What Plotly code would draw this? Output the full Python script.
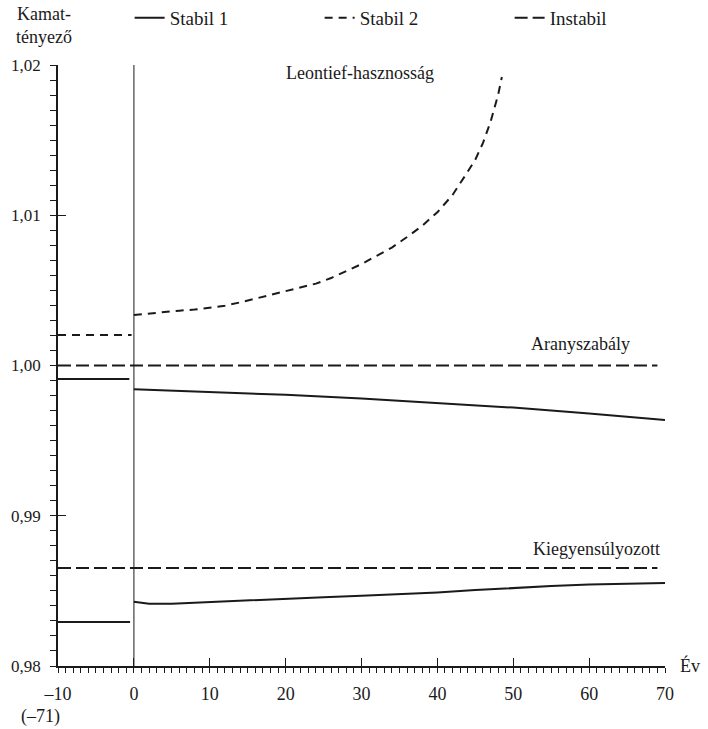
import plotly.graph_objects as go

# ---------------- data ----------------
# Leontief-hasznosság, Stabil 2
leo_pre_x = [-10, -0.3]
leo_pre_y = [1.00203, 1.00203]
leo_x = [0, 2, 4, 6, 8, 10, 12, 14, 16, 18, 20, 22, 24, 26, 28, 30, 32, 34, 36,
         38, 40, 42, 44, 45, 46, 47, 48, 48.5]
leo_y = [1.00336, 1.00347, 1.00358, 1.00365, 1.00372, 1.00385, 1.00398, 1.0042,
         1.00445, 1.0047, 1.00492, 1.00515, 1.00545, 1.00582, 1.0063, 1.00675,
         1.0073, 1.00785, 1.00855, 1.0093, 1.0102, 1.01135, 1.0129, 1.0137,
         1.0148, 1.0162, 1.0180, 1.0192]

# Aranyszabály
gold_inst_x = [-10, 69]
gold_inst_y = [1.0, 1.0]
gold_pre_x = [-10, -0.6]
gold_pre_y = [0.99910, 0.99910]
gold_x = [0, 10, 20, 30, 40, 50, 60, 70]
gold_y = [0.99842, 0.99825, 0.99805, 0.99780, 0.99750, 0.99720, 0.99680, 0.99637]

# Kiegyensúlyozott
bal_inst_x = [-10, 69]
bal_inst_y = [0.98652, 0.98652]
bal_pre_x = [-10, -0.5]
bal_pre_y = [0.98293, 0.98293]
bal_x = [0, 2, 5, 8, 12, 16, 20, 25, 30, 35, 40, 45, 50, 55, 60, 65, 70]
bal_y = [0.98428, 0.98414, 0.98415, 0.98422, 0.98428, 0.98438, 0.98446, 0.98458,
         0.98468, 0.98478, 0.98490, 0.98505, 0.98520, 0.98532, 0.98542, 0.98550,
         0.98553]

# vertical jump line at t = 0
jump_x = [0, 0]
jump_y = [0.98, 1.02]

x_major = [-10, 0, 10, 20, 30, 40, 50, 60, 70]
x_major_text = ["–10", "0", "10", "20", "30", "40", "50", "60", "70"]
y_major = [0.98, 0.99, 1.00, 1.01, 1.02]
y_major_text = ["0,98", "0,99", "1,00", "1,01", "1,02"]

# ---------------- figure ----------------
INK = "#1a1a1a"
FONT = "'Liberation Serif', 'DejaVu Serif', serif"
S1 = dict(color=INK, width=2, dash="solid")
S2 = dict(color=INK, width=2, dash="8px,6px")
INS = dict(color=INK, width=2, dash="13px,5px")

fig = go.Figure()

fig.add_trace(go.Scatter(x=jump_x, y=jump_y, mode="lines",
                         line=dict(color="#666666", width=1.5),
                         showlegend=False, hoverinfo="skip"))

def add(x, y, style, name, show):
    fig.add_trace(go.Scatter(x=x, y=y, mode="lines", line=style, name=name,
                             legendgroup=name, showlegend=show))

add(gold_pre_x, gold_pre_y, S1, "Stabil 1", True)
add(leo_pre_x, leo_pre_y, S2, "Stabil 2", True)
add(gold_inst_x, gold_inst_y, INS, "Instabil", True)
add(gold_x, gold_y, S1, "Stabil 1", False)
add(leo_x, leo_y, S2, "Stabil 2", False)
add(bal_inst_x, bal_inst_y, INS, "Instabil", False)
add(bal_pre_x, bal_pre_y, S1, "Stabil 1", False)
add(bal_x, bal_y, S1, "Stabil 1", False)

# invisible trace for overlay axes
fig.add_trace(go.Scatter(x=[None], y=[None], xaxis="x2", yaxis="y2",
                         showlegend=False, hoverinfo="skip"))

x_minor = list(range(-10, 71))
y_minor = [round(0.98 + i * 0.001, 3) for i in range(41)]

fig.update_layout(
    width=708, height=729,
    margin=dict(l=58, r=43, t=65, b=63, autoexpand=False),
    paper_bgcolor="white", plot_bgcolor="white",
    font=dict(family=FONT, size=17, color=INK),
    showlegend=True,
    legend=dict(orientation="h", x=0.118, y=1.11, xanchor="left", yanchor="top",
                entrywidth=145, entrywidthmode="pixels",
                font=dict(family=FONT, size=19, color=INK),
                bgcolor="rgba(0,0,0,0)", traceorder="normal"),
    xaxis=dict(range=[-10, 70], showgrid=False, zeroline=False,
               showline=True, linecolor=INK, linewidth=1.5,
               tickmode="array", tickvals=x_minor,
               ticktext=[(x_major_text[x_major.index(v)] if v in x_major else "") for v in x_minor],
               ticks="outside", ticklen=5, tickwidth=1, tickcolor=INK,
               ticklabelstandoff=6,
               tickfont=dict(family=FONT, size=18, color=INK)),
    yaxis=dict(range=[0.98, 1.02], showgrid=False, zeroline=False,
               showline=True, linecolor=INK, linewidth=1.5,
               tickmode="array", tickvals=y_minor,
               ticktext=[(y_major_text[y_major.index(v)] if v in y_major else "") for v in y_minor],
               ticks="outside", ticklen=6, tickwidth=1, tickcolor=INK,
               ticklabelstandoff=6,
               tickfont=dict(family=FONT, size=17, color=INK)),
    xaxis2=dict(range=[-10, 70], overlaying="x", anchor="y", side="bottom",
                showgrid=False, zeroline=False, showline=False,
                tickmode="array", tickvals=x_major, showticklabels=False,
                ticks="inside", ticklen=8, tickwidth=1.2, tickcolor=INK),
    yaxis2=dict(range=[0.98, 1.02], overlaying="y", anchor="x", side="left",
                showgrid=False, zeroline=False, showline=False,
                tickmode="array", tickvals=y_major, showticklabels=False,
                ticks="inside", ticklen=8, tickwidth=1.2, tickcolor=INK),
)

W, H = 708, 729
L, R, T, B = 58, 43, 65, 63
pw, ph = W - L - R, H - T - B

ann = dict(showarrow=False, font=dict(family=FONT, size=18, color=INK))
fig.add_annotation(text="Leontief-hasznosság", x=29.8, y=1.0195, xref="x", yref="y", **ann)
fig.add_annotation(text="Aranyszabály", x=58.8, y=1.0014, xref="x", yref="y", **ann)
fig.add_annotation(text="Kiegyensúlyozott", x=61, y=0.98778, xref="x", yref="y", **ann)

def px_ann(text, px, py, yanchor="middle"):
    fig.add_annotation(text=text, x=(px - L) / pw, y=(H - B - py) / ph,
                       xref="paper", yref="paper", xanchor="center",
                       yanchor=yanchor, **ann)

px_ann("Kamat-<br>tényező", 44, 2, "top")
px_ann("Év", 690, 665)
px_ann("(–71)", 40, 716)

fig.write_html("out.html")
